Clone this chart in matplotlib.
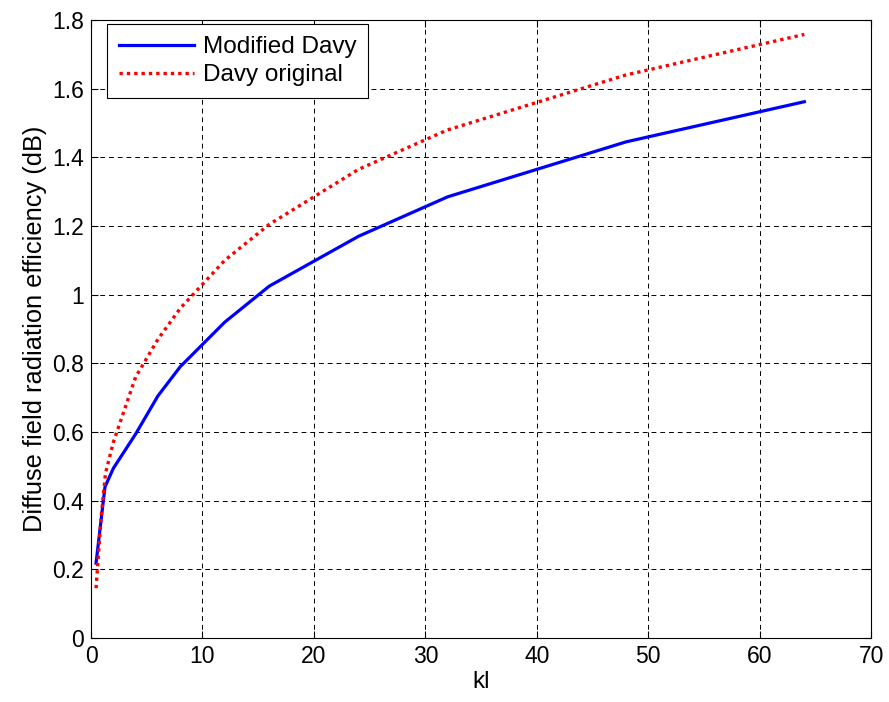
import matplotlib
matplotlib.use('Agg')
from matplotlib import pyplot as plt

# kl values and radiation efficiency (dB)
kl_mod = [0.45, 1.25, 2, 4, 6, 8, 12, 16, 24, 32, 40, 48, 64]
eff_mod = [0.218, 0.44, 0.494, 0.594, 0.705, 0.79, 0.92, 1.025, 1.17, 1.285, 1.365, 1.445, 1.562]

kl_orig = [0.45, 0.9, 1.3, 2, 4, 6, 8, 12, 16, 24, 32, 48, 64]
eff_orig = [0.145, 0.35, 0.48, 0.57, 0.76, 0.87, 0.96, 1.1, 1.205, 1.365, 1.48, 1.64, 1.758]

xticks = [0, 10, 20, 30, 40, 50, 60, 70]
yticks = [0, 0.2, 0.4, 0.6, 0.8, 1, 1.2, 1.4, 1.6, 1.8]
ytick_labels = ['0', '0.2', '0.4', '0.6', '0.8', '1', '1.2', '1.4', '1.6', '1.8']

matplotlib.rcParams.update({'font.size': 16.5, 'font.family': 'Liberation Sans'})

fig = plt.figure(figsize=(8.89, 7.02), dpi=100)
ax = fig.add_axes([0.1024, 0.0912, 0.8776, 0.8803])

ax.plot(kl_mod, eff_mod, color='#0000ff', lw=2.3, label='Modified Davy')
ax.plot(kl_orig, eff_orig, color='#ff0000', lw=2.4, linestyle=(0, (1, 1.2)), label='Davy original')

ax.set_xlim(0, 70)
ax.set_ylim(0, 1.8)
ax.set_xticks(xticks)
ax.set_yticks(yticks)
ax.set_yticklabels(ytick_labels)
ax.tick_params(direction='in', top=True, right=True, length=5, width=0.8, pad=5)
ax.grid(True, color='black', linestyle=(0, (5, 4)), linewidth=0.7)
for s in ax.spines.values():
    s.set_linewidth(0.8)

ax.set_xlabel('kl', fontsize=17.5, labelpad=2)
ax.set_ylabel('Diffuse field radiation efficiency (dB)', fontsize=18.3, labelpad=4)

leg = ax.legend(loc='upper left', bbox_to_anchor=(0.02, 0.9935), fancybox=False,
                framealpha=1, edgecolor='black', handlelength=3.1, fontsize=17.5,
                borderaxespad=0, borderpad=0.5, labelspacing=0.25, handletextpad=0.35)
leg.get_frame().set_linewidth(0.8)

fig.savefig('out.png', dpi=100)
